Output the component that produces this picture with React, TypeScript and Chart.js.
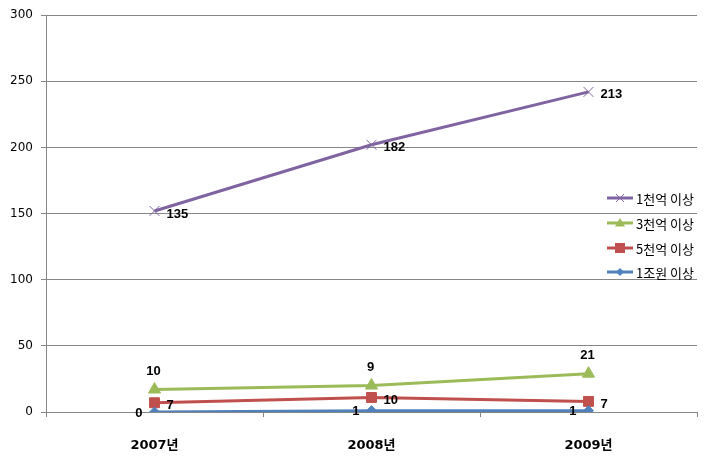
import React, { useEffect, useRef } from "react";
import { Chart, registerables } from "chart.js";

Chart.register(...registerables);

const categories = ["2007년", "2008년", "2009년"];
const seriesNames = ["1조원 이상", "5천억 이상", "3천억 이상", "1천억 이상"];
const trillion = [0, 1, 1];
const fiveHundredBillion = [7, 10, 7];
const threeHundredBillion = [10, 9, 21];
const hundredBillion = [135, 182, 213];
const yTicks = [0, 50, 100, 150, 200, 250, 300];

const colors = ["#4F81BD", "#C0504D", "#9BBB59", "#8064A2"];
const pointStyles = ["rectRot", "rect", "triangle", "crossRot"];
const pointRadii = [5, 7, 7, 7];
const labelPlacement = ["left", "right", "above", "right"];

const LABEL_FONT = "bold 13px 'Liberation Sans', 'Noto Sans CJK KR', sans-serif";
const LEGEND_FONT = "13px 'Noto Sans CJK KR', 'DejaVu Sans', sans-serif";

function drawMarker(ctx: CanvasRenderingContext2D, style: string, x: number, y: number, r: number, color: string) {
  ctx.save();
  ctx.fillStyle = color;
  ctx.strokeStyle = color;
  ctx.lineWidth = 1;
  ctx.beginPath();
  if (style === "rectRot") {
    ctx.moveTo(x, y - r);
    ctx.lineTo(x + r, y);
    ctx.lineTo(x, y + r);
    ctx.lineTo(x - r, y);
    ctx.closePath();
    ctx.fill();
  } else if (style === "rect") {
    ctx.rect(x - r, y - r, 2 * r, 2 * r);
    ctx.fill();
  } else if (style === "triangle") {
    ctx.moveTo(x, y - r);
    ctx.lineTo(x + r, y + r * 0.7);
    ctx.lineTo(x - r, y + r * 0.7);
    ctx.closePath();
    ctx.fill();
  } else {
    ctx.moveTo(x - r, y - r);
    ctx.lineTo(x + r, y + r);
    ctx.moveTo(x + r, y - r);
    ctx.lineTo(x - r, y + r);
    ctx.stroke();
  }
  ctx.restore();
}

const overlayPlugin = {
  id: "overlay",
  afterDatasetsDraw(chart: any) {
    const ctx = chart.ctx;
    ctx.save();
    // data labels
    ctx.font = LABEL_FONT;
    ctx.fillStyle = "#000";
    chart.data.datasets.forEach((ds: any, i: number) => {
      const meta = chart.getDatasetMeta(i);
      meta.data.forEach((pt: any, j: number) => {
        const txt = String(ds.rawValues[j]);
        const place = labelPlacement[i];
        ctx.textBaseline = "middle";
        if (place === "right") {
          ctx.textAlign = "left";
          ctx.fillText(txt, pt.x + 12, pt.y + 3);
        } else if (place === "left") {
          ctx.textAlign = "right";
          ctx.fillText(txt, pt.x - 12, pt.y + 1);
        } else {
          ctx.textAlign = "center";
          ctx.fillText(txt, pt.x - 1, pt.y - 18);
        }
      });
    });
    // legend (top entry = last dataset)
    const legendYs = [198, 223, 248, 272];
    const order = [3, 2, 1, 0];
    order.forEach((di, k) => {
      const y = legendYs[k];
      const x0 = 607;
      const x1 = 633;
      ctx.strokeStyle = colors[di];
      ctx.lineWidth = 3;
      ctx.beginPath();
      ctx.moveTo(x0, y);
      ctx.lineTo(x1, y);
      ctx.stroke();
      const r = di === 3 ? 4 : di === 0 ? 4 : 5;
      drawMarker(ctx, pointStyles[di], (x0 + x1) / 2, y, r, colors[di]);
      ctx.fillStyle = "#000";
      ctx.font = LEGEND_FONT;
      ctx.textAlign = "left";
      ctx.textBaseline = "middle";
      ctx.fillText(seriesNames[di], 636, y + 1);
    });
    ctx.restore();
  },
};

export default function App() {
  const ref = useRef<HTMLCanvasElement | null>(null);

  useEffect(() => {
    document.body.style.margin = "0";
    const raw = [trillion, fiveHundredBillion, threeHundredBillion, hundredBillion];
    const chart = new Chart(ref.current as HTMLCanvasElement, {
      type: "line",
      data: {
        labels: categories,
        datasets: raw.map((vals, i) => ({
          label: seriesNames[i],
          data: vals,
          rawValues: vals,
          borderColor: colors[i],
          backgroundColor: colors[i],
          pointBackgroundColor: colors[i],
          pointBorderColor: colors[i],
          pointStyle: pointStyles[i],
          pointRadius: pointRadii[i],
          pointBorderWidth: 1,
          borderWidth: 3,
          fill: false,
          tension: 0,
        })) as any,
      },
      options: {
        responsive: false,
        animation: false,
        events: [],
        layout: { padding: { top: 13, right: 13, left: 0, bottom: 0 } },
        plugins: {
          legend: { display: false },
          tooltip: { enabled: false },
          title: { display: false },
        },
        scales: {
          x: {
            type: "category",
            offset: true,
            grid: {
              offset: true,
              drawOnChartArea: false,
              drawTicks: true,
              tickLength: 5,
              color: "#868686",
            },
            border: { display: true, color: "#868686", width: 1 },
            ticks: {
              color: "#000",
              padding: 21,
              font: { family: "'DejaVu Sans', 'Noto Sans CJK KR', sans-serif", size: 13, weight: "bold" },
            },
            afterFit: (s: any) => {
              s.height = 54;
            },
          },
          y: {
            stacked: true,
            min: 0,
            max: 300,
            afterBuildTicks: (s: any) => {
              s.ticks = yTicks.map((v) => ({ value: v }));
            },
            grid: {
              color: "#868686",
              tickLength: 5,
              drawTicks: true,
            },
            border: { display: true, color: "#868686", width: 1 },
            ticks: {
              color: "#000",
              padding: 8,
              font: { family: "'DejaVu Sans', sans-serif", size: 12 },
            },
            afterFit: (s: any) => {
              s.width = 46;
            },
          },
        },
      } as any,
      plugins: [overlayPlugin],
    });
    return () => chart.destroy();
  }, []);

  return <canvas ref={ref} width={710} height={466} style={{ display: "block" }} />;
}
